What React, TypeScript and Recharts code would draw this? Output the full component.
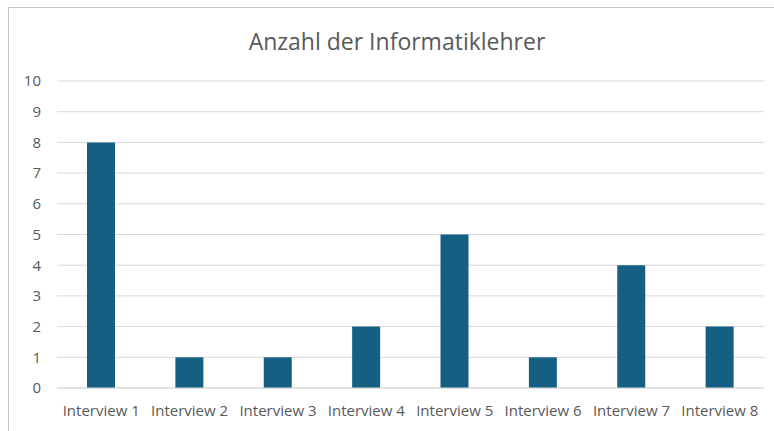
import { BarChart, Bar, XAxis, YAxis, CartesianGrid } from 'recharts';

const interviews = ['Interview 1', 'Interview 2', 'Interview 3', 'Interview 4', 'Interview 5', 'Interview 6', 'Interview 7', 'Interview 8'];
const teacherCounts = [8, 1, 1, 2, 5, 1, 4, 2];
const yTicks = [0, 1, 2, 3, 4, 5, 6, 7, 8, 9, 10];

const chartData = interviews.map((name, i) => ({ name, count: teacherCounts[i] }));

const font = '"Open Sans", "Noto Sans", sans-serif';

export default function App() {
  return (
    <div style={{ position: 'absolute', left: 0, top: 0, width: 774, height: 431, overflow: 'hidden', background: '#fff', fontFamily: font }}>
      {/* chart frame, cut off on the right and bottom like the screenshot */}
      <div style={{ position: 'absolute', left: 8, top: 7, width: 800, height: 460, border: '1px solid #c8c8c8' }} />
      <div style={{ position: 'absolute', left: 0, top: 25, width: 794, textAlign: 'center', fontSize: 23, color: '#595959' }}>
        Anzahl der Informatiklehrer
      </div>
      <div style={{ position: 'absolute', left: 0, top: 0 }}>
        <BarChart width={774} height={431} data={chartData} margin={{ top: 81, right: 10, bottom: 13, left: 0 }}>
          <CartesianGrid vertical={false} stroke="#d9d9d9" />
          <XAxis
            dataKey="name"
            axisLine={{ stroke: '#d9d9d9' }}
            tickLine={false}
            tick={{ fill: '#595959', fontSize: 15, fontFamily: font }}
            tickMargin={11}
            interval={0}
          />
          <YAxis
            width={57}
            domain={[0, 10]}
            ticks={yTicks}
            axisLine={false}
            tickLine={false}
            tickSize={0}
            tickMargin={16}
            tick={{ fill: '#595959', fontSize: 15, fontFamily: font }}
          />
          <Bar dataKey="count" fill="#156082" barSize={28} isAnimationActive={false} />
        </BarChart>
      </div>
    </div>
  );
}
